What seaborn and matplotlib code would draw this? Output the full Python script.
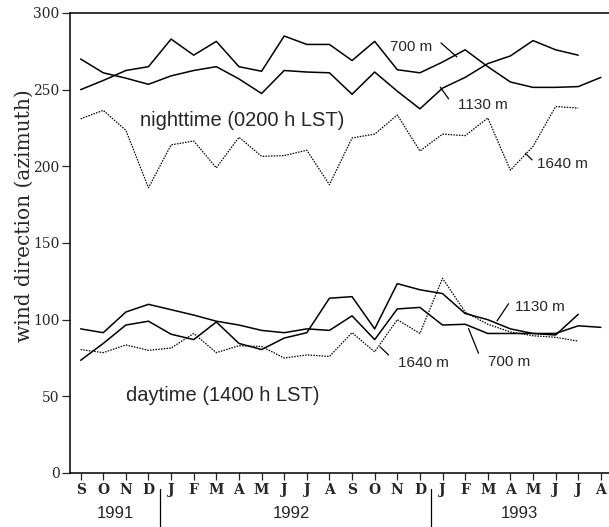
import numpy as np
import pandas as pd
import matplotlib
matplotlib.use("Agg")
import matplotlib.pyplot as plt
import matplotlib.transforms as mtransforms
import seaborn as sns

months = ["S", "O", "N", "D", "J", "F", "M", "A", "M", "J", "J", "A",
          "S", "O", "N", "D", "J", "F", "M", "A", "M", "J", "J", "A"]
years = ["1991", "1992", "1993"]
y_ticks = [0, 50, 100, 150, 200, 250, 300]

night_700 = [250, 256, 262.5, 265, 283, 272.5, 281.5, 265, 262, 285, 279.5, 279.5,
             269, 281.5, 263, 261, 268, 276, 265, 255, 251.5, 251.5, 252, 258]
night_1130 = [270, 261, 257.5, 253.5, 259, 262.5, 265, 257, 247.5, 262.5, 261.5, 261,
              247, 261.5, 249, 237.5, 251, 258, 267, 272, 282, 276, 272.5, np.nan]
night_1640 = [231, 236.5, 223.5, 186, 214, 216.5, 199, 219, 206.5, 207, 210.5, 188,
              218.5, 221, 233.5, 210, 221, 220, 231.5, 197.5, 213, 239, 238, np.nan]

day_700 = [94, 91.5, 105, 110, 106.5, 103, 99, 96.5, 93, 91.5, 94, 93,
           102.5, 87, 107, 108, 96.5, 97, 91, 91, 91, 91, 96, 95]
day_1130 = [73.5, 84.5, 96.5, 99, 90.5, 87, 98.5, 84.5, 80.5, 88, 91.5, 114,
            115, 94, 123.5, 119.5, 117, 104, 100, 94, 91, 90, 103.5, np.nan]
day_1640 = [80.5, 78.5, 83.5, 80, 81.5, 91, 78.5, 83, 82.5, 75, 77, 76,
            91.5, 79, 100, 91, 127, 105, 97, 92, 89.5, 88.5, 86, np.nan]

series = {
    ("night", "700 m"): night_700,
    ("night", "1130 m"): night_1130,
    ("night", "1640 m"): night_1640,
    ("day", "700 m"): day_700,
    ("day", "1130 m"): day_1130,
    ("day", "1640 m"): day_1640,
}
rows = []
for (period, level), vals in series.items():
    for i, v in enumerate(vals):
        rows.append({"period": period, "level": level, "month": i, "dir": v})
df = pd.DataFrame(rows).dropna()

sns.set_theme(style="ticks")
plt.rcParams["font.family"] = ["Liberation Sans", "DejaVu Sans"]

fig = plt.figure(figsize=(6.09, 5.27), dpi=100)
ax = fig.add_axes([70 / 609, 54 / 527, 539 / 609, 460 / 527])

for (period, level), _ in series.items():
    sub = df[(df.period == period) & (df.level == level)]
    dotted = level == "1640 m"
    sns.lineplot(data=sub, x="month", y="dir", ax=ax, color="black",
                 linewidth=0.9 if dotted else 1.1,
                 linestyle=(0, (1.2, 1.0)) if dotted else "-",
                 estimator=None, sort=False, legend=False)

ax.set_xlim(-0.47, 23.36)
ax.set_ylim(0, 300)
ax.set_yticks(y_ticks)
ax.set_yticklabels([str(t) for t in y_ticks], family="DejaVu Serif", fontsize=10)
ax.set_xticks(range(len(months)))
ax.set_xticklabels(months, family="DejaVu Serif", fontsize=10, fontweight="bold")
ax.tick_params(axis="y", direction="out", length=6, width=0.9, pad=1.5)
ax.tick_params(axis="x", direction="out", length=5, width=0.9, pad=2)
ax.set_xlabel("")
ax.set_ylabel("wind direction (azimuth)", family="DejaVu Serif", fontsize=14.5)
ax.yaxis.set_label_coords(-0.068, 0.56)
for s in ["left", "bottom", "top"]:
    ax.spines[s].set_linewidth(1.1)
    ax.spines[s].set_color("black")
ax.spines["right"].set_visible(False)

ax.text(2.63, 230, "nighttime (0200 h LST)", fontsize=14.5, ha="left", va="center")
ax.text(2.0, 50.5, "daytime (1400 h LST)", fontsize=14.5, ha="left", va="center")

labels = [
    ("700 m", 13.69, 278, (15.93, 280.5), (16.63, 271.4)),
    ("1130 m", 16.7, 240, (15.9, 251.6), (16.27, 244)),
    ("1640 m", 20.19, 201.8, (19.66, 208.5), (19.96, 204.2)),
    ("1130 m", 19.22, 108.2, (18.41, 99.2), (18.92, 110.4)),
    ("700 m", 18.02, 72.6, (17.59, 78.1), (17.15, 94.2)),
    ("1640 m", 14.04, 71.8, (13.61, 77), (13.24, 82.3)),
]
for txt, tx, ty, p1, p2 in labels:
    ax.text(tx, ty, txt, fontsize=11, ha="left", va="center")
    ax.plot([p1[0], p2[0]], [p1[1], p2[1]], color="black", lw=0.9)

trans = mtransforms.blended_transform_factory(ax.transData, ax.transAxes)
year_x = [1.55, 9.3, 19.4]
for yr, xx in zip(years, year_x):
    ax.text(xx, -0.089, yr, transform=trans, fontsize=12, ha="center", va="center")
for xx in [3.5, 15.5]:
    ax.plot([xx, xx], [-0.035, -0.12], transform=trans, color="black", lw=0.9, clip_on=False)

fig.savefig("out.png", dpi=100)
